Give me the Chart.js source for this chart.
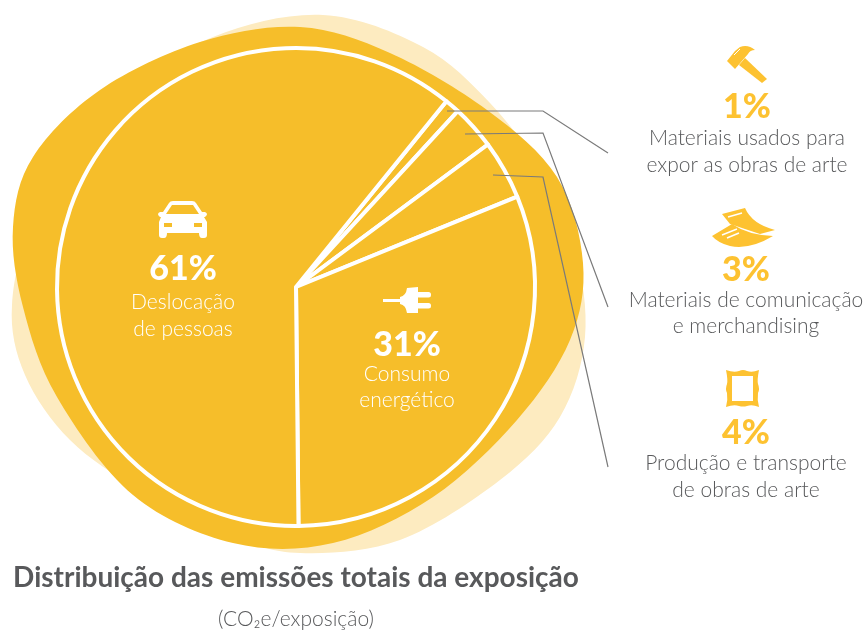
<!DOCTYPE html>
<html>
<head>
<meta charset="utf-8">
<title>Distribuição das emissões</title>
<script src="https://cdn.jsdelivr.net/npm/chart.js@4"></script>
<style>
  body { margin: 0; background: #fff; }
  canvas { display: block; }
</style>
</head>
<body>
<canvas id="myChart" width="865" height="630"></canvas>
<script>
// data, in drawing order starting at the top right
const categories = ["Materiais usados para expor as obras de arte", "Materiais de comunicação e merchandising", "Produção e transporte de obras de arte", "Consumo energético", "Deslocação de pessoas"];
const shares = [1, 3, 4, 31, 61];
const labelLines = [
  ["Materiais usados para", "expor as obras de arte"],
  ["Materiais de comunicação", "e merchandising"],
  ["Produção e transporte", "de obras de arte"],
  ["Consumo", "energético"],
  ["Deslocação", "de pessoas"]
];
const chartTitle = "Distribuição das emissões totais da exposição";
const chartSubtitle = "(CO₂e/exposição)";

const DARK = "#f6be2a";
const LIGHT = "#fdebc0";
const ICON = "#fdc231";
const GREY = "#58595b";
const FONT = "Lato, sans-serif";

// background shapes behind the pie
const darkBlob = [[300,27],[390,53],[487,110],[557,177],[583,263],[570,340],[517,420],[433,497],[333,543],[233,543],[133,495],[57,397],[23,307],[13,227],[33,157],[100,90],[200,42]];
const lightBlob = [[323,15],[423,47],[490,103],[540,170],[575,250],[585,337],[560,417],[500,480],[400,540],[300,553],[230,535],[140,490],[70,440],[25,375],[12,305],[35,220],[110,100],[213,37]];
const leaders = [
  [[447,111],[543,111],[608,153]],
  [[465,134],[543,133],[608,307]],
  [[493,175],[543,177],[608,467]]
];

function smoothBlob(ctx, pts) {
  const n = pts.length;
  ctx.beginPath();
  ctx.moveTo(pts[0][0], pts[0][1]);
  for (let i = 0; i < n; i++) {
    const p0 = pts[(i - 1 + n) % n], p1 = pts[i], p2 = pts[(i + 1) % n], p3 = pts[(i + 2) % n];
    ctx.bezierCurveTo(
      p1[0] + (p2[0] - p0[0]) / 6, p1[1] + (p2[1] - p0[1]) / 6,
      p2[0] - (p3[0] - p1[0]) / 6, p2[1] - (p3[1] - p1[1]) / 6,
      p2[0], p2[1]);
  }
  ctx.closePath();
  ctx.fill();
}

function poly(ctx, pts) {
  ctx.beginPath();
  pts.forEach((p, i) => i ? ctx.lineTo(p[0], p[1]) : ctx.moveTo(p[0], p[1]));
  ctx.closePath();
  ctx.fill();
}

function drawCar(ctx) {
  ctx.fillStyle = "#fff";
  ctx.beginPath();
  ctx.moveTo(169, 203);
  ctx.quadraticCurveTo(170, 201, 173, 201);
  ctx.lineTo(192, 201);
  ctx.quadraticCurveTo(195, 201, 196, 203);
  ctx.lineTo(202, 212);
  ctx.lineTo(205, 212);
  ctx.quadraticCurveTo(209, 214, 205, 217);
  ctx.lineTo(204, 217);
  ctx.lineTo(207, 222);
  ctx.lineTo(207, 235);
  ctx.quadraticCurveTo(207, 238, 204, 238);
  ctx.lineTo(202, 238);
  ctx.quadraticCurveTo(199, 238, 199, 233);
  ctx.lineTo(167, 233);
  ctx.quadraticCurveTo(167, 238, 164, 238);
  ctx.lineTo(162, 238);
  ctx.quadraticCurveTo(159, 238, 159, 235);
  ctx.lineTo(159, 222);
  ctx.lineTo(161, 217);
  ctx.lineTo(160, 217);
  ctx.quadraticCurveTo(156, 214, 160, 212);
  ctx.lineTo(163, 212);
  ctx.closePath();
  ctx.fill();
  ctx.fillStyle = DARK;
  poly(ctx, [[172,205],[193,205],[199,214],[166,214]]);
  ctx.fillRect(164, 223, 8, 4);
  ctx.fillRect(194, 223, 8, 4);
}

function drawPlug(ctx) {
  ctx.fillStyle = "#fff";
  ctx.fillRect(383, 299, 18, 3);
  ctx.beginPath();
  ctx.moveTo(400, 297);
  ctx.quadraticCurveTo(406, 296, 407, 288);
  ctx.lineTo(418, 287);
  ctx.lineTo(418, 313);
  ctx.lineTo(407, 313);
  ctx.quadraticCurveTo(406, 305, 400, 304);
  ctx.closePath();
  ctx.fill();
  ctx.beginPath();
  ctx.roundRect(416, 292, 15, 5.5, 2.5);
  ctx.roundRect(416, 303, 15, 5.5, 2.5);
  ctx.fill();
}

function drawHammer(ctx) {
  ctx.fillStyle = ICON;
  ctx.beginPath();
  ctx.moveTo(727, 61);
  ctx.lineTo(735, 51);
  ctx.lineTo(740, 47);
  ctx.quadraticCurveTo(748, 44, 755, 50);
  ctx.quadraticCurveTo(750, 50, 748, 54);
  ctx.lineTo(735, 69);
  ctx.closePath();
  ctx.fill();
  poly(ctx, [[745,58],[767,79],[762,83],[739,65]]);
  ctx.strokeStyle = "#fff";
  ctx.lineWidth = 1;
  ctx.beginPath();
  ctx.moveTo(734, 55);
  ctx.lineTo(740, 49);
  ctx.stroke();
}

function drawPapers(ctx) {
  ctx.fillStyle = ICON;
  ctx.beginPath();
  ctx.moveTo(722, 214);
  ctx.lineTo(745, 208);
  ctx.quadraticCurveTo(752, 224, 775, 230);
  ctx.lineTo(760, 234);
  ctx.quadraticCurveTo(742, 228, 730, 224);
  ctx.closePath();
  ctx.fill();
  ctx.beginPath();
  ctx.moveTo(712, 236);
  ctx.lineTo(732, 224);
  ctx.quadraticCurveTo(748, 235, 773, 236);
  ctx.quadraticCurveTo(750, 250, 730, 246);
  ctx.quadraticCurveTo(718, 243, 712, 236);
  ctx.closePath();
  ctx.fill();
  ctx.strokeStyle = "#fff";
  ctx.lineWidth = 1.5;
  [[[728,217],[742,213]], [[722,235],[737,229]], [[727,238],[739,233]]].forEach(l => {
    ctx.beginPath();
    ctx.moveTo(l[0][0], l[0][1]);
    ctx.lineTo(l[1][0], l[1][1]);
    ctx.stroke();
  });
}

function drawFrame(ctx) {
  ctx.fillStyle = ICON;
  ctx.beginPath();
  ctx.moveTo(726, 370);
  ctx.quadraticCurveTo(734, 373, 739, 371);
  ctx.quadraticCurveTo(743, 369, 747, 371);
  ctx.quadraticCurveTo(752, 373, 759, 370);
  ctx.quadraticCurveTo(757, 380, 758, 384);
  ctx.quadraticCurveTo(760, 389, 758, 393);
  ctx.quadraticCurveTo(757, 400, 759, 407);
  ctx.quadraticCurveTo(752, 404, 747, 406);
  ctx.quadraticCurveTo(743, 407, 739, 406);
  ctx.quadraticCurveTo(734, 404, 726, 407);
  ctx.quadraticCurveTo(728, 400, 727, 393);
  ctx.quadraticCurveTo(725, 389, 727, 384);
  ctx.quadraticCurveTo(728, 380, 726, 370);
  ctx.closePath();
  ctx.rect(732, 376, 21, 25);
  ctx.fill("evenodd");
}

function drawText(ctx) {
  // x, percent baseline, first text line baseline, line gap, colours for each slice
  const spots = [
    { x: 747, pct: 118, line: 145, gap: 27, pctColor: ICON, textColor: GREY },
    { x: 746, pct: 281, line: 307, gap: 26, pctColor: ICON, textColor: GREY },
    { x: 746, pct: 444, line: 470, gap: 27, pctColor: ICON, textColor: GREY },
    { x: 407, pct: 356, line: 381, gap: 26, pctColor: "#fff", textColor: "#fff" },
    { x: 183, pct: 280, line: 309, gap: 27, pctColor: "#fff", textColor: "#fff" }
  ];
  ctx.textAlign = "center";
  ctx.textBaseline = "alphabetic";
  shares.forEach((v, i) => {
    const s = spots[i];
    ctx.fillStyle = s.pctColor;
    ctx.font = "900 34px " + FONT;
    ctx.fillText(v + "%", s.x, s.pct);
    ctx.fillStyle = s.textColor;
    ctx.font = "300 21px " + FONT;
    labelLines[i].forEach((t, j) => ctx.fillText(t, s.x, s.line + j * s.gap));
  });
  ctx.fillStyle = GREY;
  ctx.font = "700 28px " + FONT;
  ctx.fillText(chartTitle, 296, 587);
  ctx.font = "300 21px " + FONT;
  ctx.fillText(chartSubtitle, 296, 626);
}

const blobs = {
  id: "blobs",
  beforeDatasetsDraw(chart) {
    const ctx = chart.ctx;
    ctx.save();
    ctx.fillStyle = LIGHT;
    smoothBlob(ctx, lightBlob);
    ctx.fillStyle = DARK;
    smoothBlob(ctx, darkBlob);
    ctx.restore();
  }
};

const extras = {
  id: "extras",
  afterDraw(chart) {
    const ctx = chart.ctx;
    ctx.save();
    ctx.strokeStyle = "#7a7a7a";
    ctx.lineWidth = 1.2;
    leaders.forEach(l => {
      ctx.beginPath();
      l.forEach((p, i) => i ? ctx.lineTo(p[0], p[1]) : ctx.moveTo(p[0], p[1]));
      ctx.stroke();
    });
    drawCar(ctx);
    drawPlug(ctx);
    drawHammer(ctx);
    drawPapers(ctx);
    drawFrame(ctx);
    drawText(ctx);
    ctx.restore();
  }
};

new Chart(document.getElementById("myChart").getContext("2d"), {
  type: "pie",
  data: {
    labels: categories,
    datasets: [{
      data: shares,
      backgroundColor: DARK,
      borderColor: "#fff",
      borderWidth: 4,
      borderJoinStyle: "round"
    }]
  },
  options: {
    responsive: false,
    animation: false,
    rotation: 39,
    layout: { padding: { left: 55, right: 328, top: 46, bottom: 102 } },
    plugins: { legend: { display: false }, tooltip: { enabled: false } }
  },
  plugins: [blobs, extras]
});
</script>
</body>
</html>
